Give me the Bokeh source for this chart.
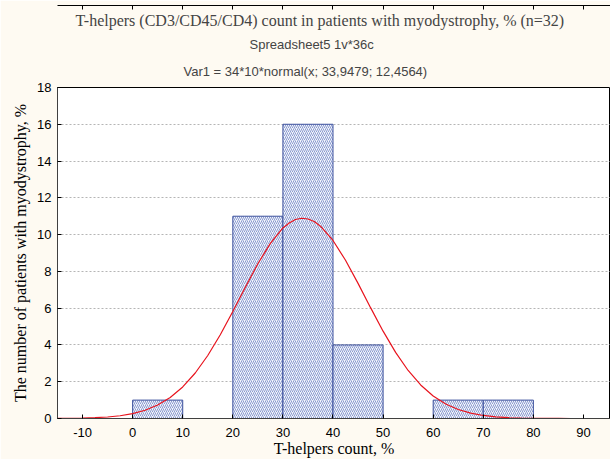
from bokeh.plotting import figure
from bokeh.models import Title, LinearAxis, FixedTicker, Range1d
from bokeh.embed import file_html
from bokeh.resources import INLINE

# Histogram bins (T-helpers count, %) and counts
bin_left = [0, 10, 20, 30, 40, 50, 60, 70]
bin_right = [10, 20, 30, 40, 50, 60, 70, 80]
counts = [1, 0, 11, 16, 4, 0, 1, 1]

# Fitted normal curve
curve_x = [-15, -12.5, -10, -7.5, -5, -2.5, 0, 2.5, 5, 7.5, 10, 12.5, 15, 17.5, 20,
           22.5, 25, 27.5, 30, 31.25, 32.5, 33.75, 35, 36.25, 37.5, 40, 42.5, 45, 47.5, 50, 52.5, 55,
           57.5, 60, 62.5, 65, 67.5, 70, 72.5, 75, 77.5, 80, 82.5, 85, 87.5, 90,
           92.5, 95]
curve_y = [0.005, 0.010, 0.022, 0.043, 0.082, 0.150, 0.266, 0.450, 0.732, 1.143,
           1.716, 2.473, 3.425, 4.554, 5.818, 7.139, 8.415, 9.526, 10.36, 10.63, 10.82,
           10.89, 10.85, 10.71, 10.46, 9.681, 8.606, 7.349, 6.028, 4.749, 3.594, 2.612, 1.823,
           1.223, 0.788, 0.488, 0.290, 0.165, 0.091, 0.048, 0.024, 0.012, 0.0055,
           0.0025, 0.0011, 0.0005, 0.0002, 0.0001]

x_ticks = [-10, 0, 10, 20, 30, 40, 50, 60, 70, 80, 90]
y_ticks = [0, 2, 4, 6, 8, 10, 12, 14, 16, 18]

BG = "#fefaf2"

p = figure(width=610, height=459, output_backend="svg", toolbar_location=None,
           title=None, x_range=Range1d(-15, 95.4), y_range=Range1d(0, 18),
           min_border_left=57, min_border_right=0, min_border_top=87, min_border_bottom=40)
p.background_fill_color = "white"
p.border_fill_color = BG
p.outline_line_color = "black"
p.outline_line_width = 1

# Titles (first added is closest to plot)
p.add_layout(Title(text="Var1 = 34*10*normal(x; 33,9479; 12,4564)", align="left", offset=126,
                   text_font="Liberation Sans", text_font_size="13px",
                   text_font_style="normal", standoff=17), "above")
p.add_layout(Title(text="Spreadsheet5 1v*36c", align="left", offset=192,
                   text_font="Liberation Sans", text_font_size="13px",
                   text_font_style="normal", standoff=3), "above")
p.add_layout(Title(text="T-helpers (CD3/CD45/CD4) count in patients with myodystrophy, % (n=32)",
                   align="left", offset=18, text_font="Liberation Serif", text_font_size="16px",
                   text_font_style="normal", standoff=9), "above")

# Bars
p.quad(left=bin_left, right=bin_right, top=counts, bottom=0,
       fill_color="#f3f5fc", line_color="#3a4f9c", line_width=1,
       hatch_pattern="right_diagonal_line", hatch_color="#6f84c4",
       hatch_scale=4, hatch_weight=1, hatch_alpha=0.8)

# Curve
p.line(curve_x, curve_y, line_color="#e8141e", line_width=1.2)

# Axes
for ax in (p.xaxis[0], p.yaxis[0]):
    ax.axis_line_color = "#404040"
    ax.major_tick_in = 4
    ax.major_tick_out = 0
    ax.minor_tick_line_color = None
    ax.major_label_text_font = "Liberation Sans"
    ax.major_label_text_font_size = "13px"
    ax.major_label_text_color = "black"
    ax.axis_label_text_font = "Liberation Serif"
    ax.axis_label_text_font_size = "16px"
    ax.axis_label_text_font_style = "normal"
    ax.axis_label_text_color = "black"

p.xaxis.ticker = FixedTicker(ticks=x_ticks)
p.yaxis.ticker = FixedTicker(ticks=y_ticks)
p.xaxis.major_label_overrides = {-10: "-10"}
p.xaxis.axis_label = "T-helpers count, %"
p.yaxis.axis_label = "The number of patients with myodystrophy, %"
p.xaxis.major_label_standoff = 9
p.xaxis.axis_label_standoff = 0
p.yaxis.major_label_standoff = 6
p.yaxis.axis_label_standoff = 5

top_axis = LinearAxis(ticker=FixedTicker(ticks=x_ticks),
                      major_label_overrides={t: "" for t in x_ticks},
                      major_tick_in=4, major_tick_out=0, minor_tick_line_color=None,
                      axis_line_color="black", major_label_standoff=0)
p.add_layout(top_axis, "above")

# Grid
p.xgrid.grid_line_color = None
p.ygrid.grid_line_color = "#b5b5b5"
p.ygrid.grid_line_dash = "2 2"
p.ygrid.grid_line_width = 1

open("out.html", "w").write(file_html(p, INLINE))
